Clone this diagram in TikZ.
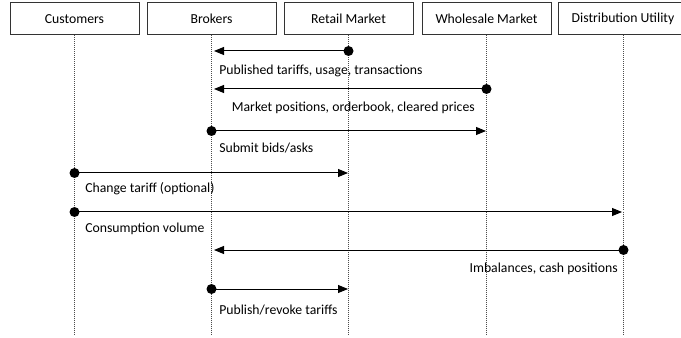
\documentclass[tikz,border=0pt]{standalone}
\usepackage{fontspec}
\setmainfont{Carlito}
\usetikzlibrary{arrows.meta}
\tikzstyle{actor} = [rectangle, minimum width=96.75pt, minimum height=24pt, text centered, draw=black!80, line width=0.75pt, inner sep=0pt]
\tikzstyle{lifeline} = [black!70, line width=0.6pt, dash pattern=on 0.75pt off 0.75pt]
\tikzstyle{msg} = [line width=0.75pt, -{Triangle[length=7.5pt, width=6pt]}]
\tikzstyle{msglabel} = [inner sep=0pt]
\tikzstyle{dot} = [fill=black, circle, inner sep=0pt, minimum size=7.5pt]

\begin{document}
\begin{tikzpicture}[x=0.75pt, y=-0.75pt, font=\fontsize{10.3}{12}\selectfont]
\clip (0,0) rectangle (681,338);
\useasboundingbox (0,0) rectangle (681,338);
% actors
\node (cust) [actor] at (74.5,19) {Customers};
\node (brk) [actor] at (211.5,19) {Brokers};
\node (retail) [actor] at (348.5,19) {Retail Market};
\node (whole) [actor] at (486.5,19) {Wholesale Market};
\node (dist) [actor] at (623,19) {Distribution Utility};
% lifelines
\foreach \a/\x in {cust/74.5, brk/211.5, retail/348.5, whole/486.5, dist/623.5} {
  \coordinate (\a end) at (\x,334);
  \draw [lifeline] (\a.south -| \a end) -- (\a end);
}
% message end points
\coordinate (m1a) at (348.5,51);  \coordinate (m1b) at (214,51);
\coordinate (m2a) at (486.5,89);  \coordinate (m2b) at (214,89);
\coordinate (m3a) at (211.5,131); \coordinate (m3b) at (486,131);
\coordinate (m4a) at (74.5,173);  \coordinate (m4b) at (348,173);
\coordinate (m5a) at (74.5,212);  \coordinate (m5b) at (622,212);
\coordinate (m6a) at (623.5,250); \coordinate (m6b) at (214,250);
\coordinate (m7a) at (211.5,289); \coordinate (m7b) at (348,289);
% messages
\foreach \m in {m1, m2, m3, m4, m5, m6, m7} {
  \draw [msg] (\m a) -- (\m b);
  \node [dot] at (\m a) {};
}
\node [msglabel, anchor=west] at (219,71) {Published tariffs, usage, transactions};
\node [msglabel, anchor=east] at (475,108) {Market positions, orderbook, cleared prices};
\node [msglabel, anchor=west] at (219,148) {Submit bids/asks};
\node [msglabel, anchor=west] at (85,189) {Change tariff (optional)};
\node [msglabel, anchor=west] at (85,229) {Consumption volume};
\node [msglabel, anchor=east] at (618,269) {Imbalances, cash positions};
\node [msglabel, anchor=west] at (219,310) {Publish/revoke tariffs};
\end{tikzpicture}
\end{document}
